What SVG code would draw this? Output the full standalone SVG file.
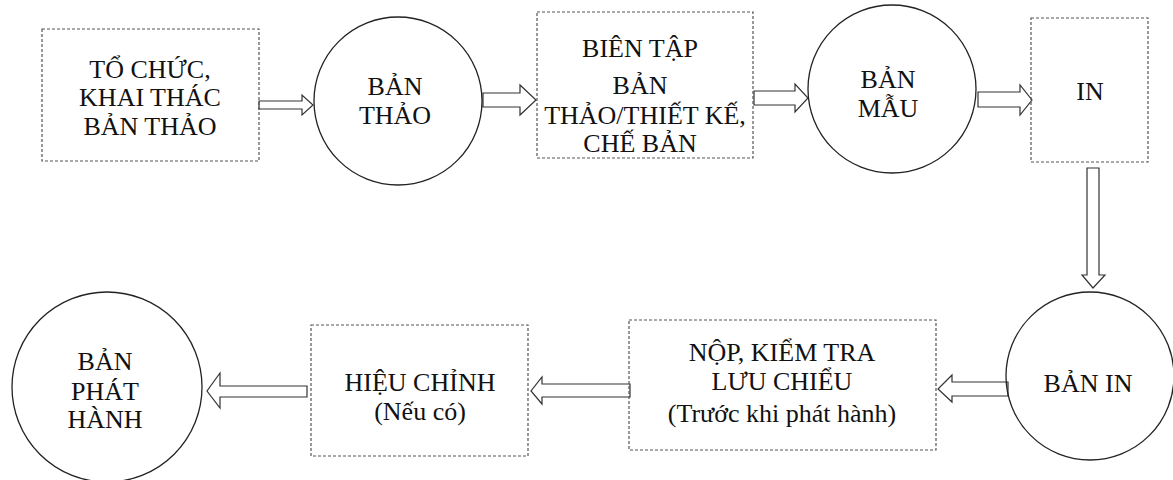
<svg xmlns="http://www.w3.org/2000/svg" width="1173" height="480" viewBox="0 0 1173 480">
<style>
  .box { fill: none; stroke: #555; stroke-width: 1.2; stroke-dasharray: 3 2; }
  .circ { fill: none; stroke: #222; stroke-width: 1.3; }
  .arr { fill: #fff; stroke: #333; stroke-width: 1.2; stroke-linejoin: miter; }
  .t { font-family: 'Liberation Serif', 'DejaVu Serif', serif; font-size: 26px; fill: #111; text-anchor: middle; }
</style>
<rect x="0" y="0" width="1173" height="480" fill="#fff"/>

<g id="connectors">
  <polygon class="arr" points="259,101 302,101 302,95 313,105 302,115 302,109 259,109"/>
  <polygon class="arr" points="483,93 520,93 520,85 536,100 520,115 520,107 483,107"/>
  <polygon class="arr" points="754,91 795,91 795,84 808,98 795,112 795,105 754,105"/>
  <polygon class="arr" points="978,92 1020,92 1020,85 1032,100 1020,115 1020,107 978,107"/>
  <polygon class="arr" points="1087,168 1087,275 1082,275 1093,288 1105,275 1099,275 1099,168"/>
  <polygon class="arr" points="1008,382 952,382 952,375 938,389 952,402 952,396 1008,396"/>
  <polygon class="arr" points="630,384 542,384 542,377 531,391 542,404 542,397 630,397"/>
  <polygon class="arr" points="307,386 220,386 220,373 207,391 220,408 220,397 307,397"/>
</g>

<g id="n1" class="t" font-family="Liberation Serif, DejaVu Serif, serif">
  <rect class="box" x="42" y="29" width="217" height="132"/>
  <text x="150" y="78">TỔ CHỨC,</text>
  <text x="150" y="106">KHAI THÁC</text>
  <text x="150" y="135">BẢN THẢO</text>
</g>

<g id="n2" class="t" font-family="Liberation Serif, DejaVu Serif, serif">
  <circle class="circ" cx="398" cy="101" r="84"/>
  <text x="395" y="95">BẢN</text>
  <text x="395" y="124">THẢO</text>
</g>

<g id="n3" class="t" font-family="Liberation Serif, DejaVu Serif, serif">
  <rect class="box" x="537" y="12" width="216" height="146"/>
  <text x="640" y="57">BIÊN TẬP</text>
  <text x="640" y="94">BẢN</text>
  <text x="645" y="124">THẢO/THIẾT KẾ,</text>
  <text x="640" y="152">CHẾ BẢN</text>
</g>

<g id="n4" class="t" font-family="Liberation Serif, DejaVu Serif, serif">
  <circle class="circ" cx="892" cy="89" r="84"/>
  <text x="888" y="88">BẢN</text>
  <text x="888" y="117">MẪU</text>
</g>

<g id="n5" class="t" font-family="Liberation Serif, DejaVu Serif, serif">
  <rect class="box" x="1031" y="18" width="117" height="144"/>
  <text x="1090" y="100">IN</text>
</g>

<g id="n6" class="t" font-family="Liberation Serif, DejaVu Serif, serif">
  <circle class="circ" cx="1090" cy="376" r="84"/>
  <text x="1088" y="392">BẢN IN</text>
</g>

<g id="n7" class="t" font-family="Liberation Serif, DejaVu Serif, serif">
  <rect class="box" x="629" y="320" width="307" height="130"/>
  <text x="782" y="361">NỘP, KIỂM TRA</text>
  <text x="782" y="390">LƯU CHIỂU</text>
  <text x="782" y="422">(Trước khi phát hành)</text>
</g>

<g id="n8" class="t" font-family="Liberation Serif, DejaVu Serif, serif">
  <rect class="box" x="311" y="325" width="217" height="131"/>
  <text x="420" y="391">HIỆU CHỈNH</text>
  <text x="420" y="420">(Nếu có)</text>
</g>

<g id="n9" class="t" font-family="Liberation Serif, DejaVu Serif, serif">
  <circle class="circ" cx="107" cy="387" r="95"/>
  <text x="105" y="370">BẢN</text>
  <text x="105" y="400">PHÁT</text>
  <text x="105" y="428">HÀNH</text>
</g>
</svg>
